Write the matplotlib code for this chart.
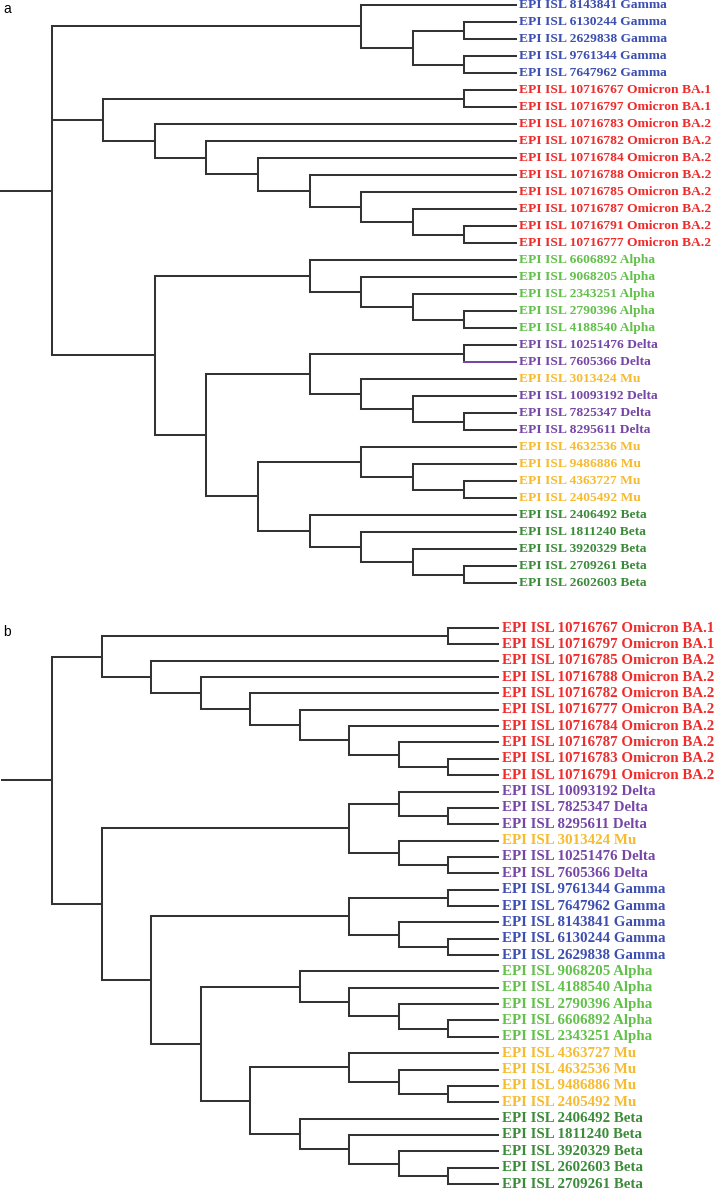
import matplotlib
matplotlib.use("Agg")
import matplotlib.pyplot as plt
from matplotlib.collections import LineCollection

# ---------------- data ----------------
ids_a = ["8143841", "6130244", "2629838", "9761344", "7647962",
         "10716767", "10716797", "10716783", "10716782", "10716784",
         "10716788", "10716785", "10716787", "10716791", "10716777",
         "6606892", "9068205", "2343251", "2790396", "4188540",
         "10251476", "7605366", "3013424", "10093192", "7825347", "8295611",
         "4632536", "9486886", "4363727", "2405492",
         "2406492", "1811240", "3920329", "2709261", "2602603"]
variants_a = ["Gamma"] * 5 + ["Omicron BA.1"] * 2 + ["Omicron BA.2"] * 8 + \
             ["Alpha"] * 5 + ["Delta"] * 2 + ["Mu"] + ["Delta"] * 3 + \
             ["Mu"] * 4 + ["Beta"] * 5
# topology of tree a (leaf indices, Newick)
tree_a = ("((0,((1,2),(3,4))),"
          "((5,6),(7,(8,(9,(10,(11,(12,(13,14)))))))),"
          "((15,(16,(17,(18,19)))),(((20,21),(22,(23,(24,25)))),"
          "((26,(27,(28,29))),(30,(31,(32,(33,34))))))))")
purple_edge_a = [21]   # leaf whose terminal branch is drawn in the variant colour

ids_b = ["10716767", "10716797", "10716785", "10716788", "10716782",
         "10716777", "10716784", "10716787", "10716783", "10716791",
         "10093192", "7825347", "8295611", "3013424", "10251476", "7605366",
         "9761344", "7647962", "8143841", "6130244", "2629838",
         "9068205", "4188540", "2790396", "6606892", "2343251",
         "4363727", "4632536", "9486886", "2405492",
         "2406492", "1811240", "3920329", "2602603", "2709261"]
variants_b = ["Omicron BA.1"] * 2 + ["Omicron BA.2"] * 8 + ["Delta"] * 3 + \
             ["Mu"] + ["Delta"] * 2 + ["Gamma"] * 5 + ["Alpha"] * 5 + \
             ["Mu"] * 4 + ["Beta"] * 5
tree_b = ("(((0,1),(2,(3,(4,(5,(6,(7,(8,9)))))))),"
          "(((10,(11,12)),(13,(14,15))),"
          "(((16,17),(18,(19,20))),"
          "((21,(22,(23,(24,25)))),"
          "((26,(27,(28,29))),(30,(31,(32,(33,34)))))))))")

colors = {"Gamma": "#3d4fb0", "Omicron BA.1": "#ef2b2b", "Omicron BA.2": "#ef2b2b",
          "Alpha": "#63c04b", "Delta": "#7647a6", "Mu": "#f6bb30", "Beta": "#3c8b3a"}
line_color = "#333333"


# ---------------- helpers ----------------
def parse(s):
    pos = 0

    def node():
        nonlocal pos
        if s[pos] == "(":
            pos += 1
            kids = [node()]
            while s[pos] == ",":
                pos += 1
                kids.append(node())
            pos += 1  # ')'
            return kids
        start = pos
        while pos < len(s) and s[pos] not in ",()":
            pos += 1
        return int(s[start:pos])
    return node()


def height(n):
    if isinstance(n, int):
        return 0
    return 1 + max(height(c) for c in n)


def draw_tree(ax, tree, ids, variants, tip_level, fontsize, txt_off, colored_edges=()):
    segs, segcols = [], []

    def rec(n):
        if isinstance(n, int):
            return tip_level, float(n)
        x = tip_level - height(n)
        kids = [rec(c) for c in n]
        ys = [k[1] for k in kids]
        segs.append([(x, ys[0]), (x, ys[-1])])
        segcols.append(line_color)
        for c, (cx, cy) in zip(n, kids):
            segs.append([(x, cy), (cx, cy)])
            if isinstance(c, int) and c in colored_edges:
                segcols.append(colors[variants[c]])
            else:
                segcols.append(line_color)
        return x, (ys[0] + ys[-1]) / 2

    rx, ry = rec(tree)
    segs.append([(rx - 1, ry), (rx, ry)])
    segcols.append(line_color)
    lc = LineCollection(segs, colors=segcols, linewidths=1.45,
                        capstyle="projecting", joinstyle="miter", clip_on=False)
    lc.set_snap(True)
    ax.add_collection(lc)
    for i, (pid, var) in enumerate(zip(ids, variants)):
        ax.annotate(f"EPI ISL {pid} {var}", xy=(tip_level, i), xytext=(txt_off, 0),
                    textcoords="offset points", va="center", ha="left",
                    fontsize=fontsize, fontweight="bold", family="Liberation Serif",
                    color=colors[var], annotation_clip=False)


W, H = 717, 1190
fig = plt.figure(figsize=(W / 100, H / 100), dpi=100)


def make_ax(x0, x10, ytop, ybot, n):
    ax = fig.add_axes([x0 / W, 1 - ybot / H, (x10 - x0) / W, (ybot - ytop) / H])
    ax.set_xlim(0, 10)
    ax.set_ylim(n - 1, 0)
    ax.axis("off")
    return ax


ax_a = make_ax(0, 516, 5, 583, len(ids_a))
draw_tree(ax_a, parse(tree_a), ids_a, variants_a, 10, 9.7, 2.4, purple_edge_a)

ax_b = make_ax(2.4, 498, 628, 1184, len(ids_b))
draw_tree(ax_b, parse(tree_b), ids_b, variants_b, 10, 10.85, 3.0)

fig.text(3 / W, 1 - 9 / H, "a", fontsize=10, family="Liberation Sans", va="center", ha="left")
fig.text(3 / W, 1 - 632 / H, "b", fontsize=10, family="Liberation Sans", va="center", ha="left")

fig.savefig("out.png", dpi=100)
